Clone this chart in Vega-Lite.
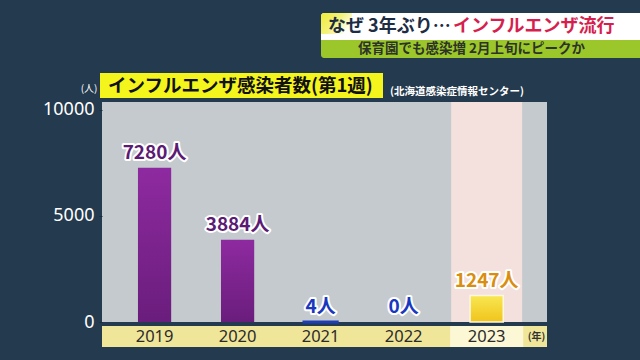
{
  "$schema": "https://vega.github.io/schema/vega-lite/v6.json",
  "width": 445,
  "height": 245,
  "autosize": "none",
  "padding": {"left": 102, "top": 102, "right": 93, "bottom": 13},
  "background": "#243a4e",
  "config": {"view": {"stroke": null}, "font": "Noto Sans CJK JP"},
  "data": {"values": [
    {"year": "2019", "value": 7280, "label": "7280人"},
    {"year": "2020", "value": 3884, "label": "3884人"},
    {"year": "2021", "value": 4, "label": "4人"},
    {"year": "2022", "value": 0, "label": "0人"},
    {"year": "2023", "value": 1247, "label": "1247人"}
  ]},
  "layer": [
    {
      "data": {"values": [{}]},
      "mark": {"type": "rect", "fill": "#c4cacd"},
      "encoding": {
        "y": {"datum": 0, "type": "quantitative", "scale": {"domain": [-1179, 10377], "nice": false, "zero": false},
          "title": "(人)",
          "axis": {"values": [0, 5000, 10000], "format": "d", "grid": false, "domain": false, "tickSize": 3, "tickColor": "#1b2c3c", "labelColor": "#ffffff", "labelFontSize": 18, "labelPadding": 5, "labelFlush": false, "labelFont": "Noto Sans", "titleAngle": 0, "titleAlign": "right", "titleBaseline": "middle", "titleX": -5, "titleY": -14, "titleColor": "#ffffff", "titleFontSize": 10, "titleFontWeight": "normal", "zindex": 1}},
        "y2": {"datum": 10377}
      }
    },
    {
      "data": {"values": [{}]},
      "mark": {"type": "rect", "fill": "#efe69a"},
      "encoding": {
        "y": {"datum": -189, "type": "quantitative", "scale": {"domain": [-1179, 10377], "nice": false, "zero": false}},
        "y2": {"datum": -1179}
      }
    },
    {
      "encoding": {
        "x": {"field": "year", "type": "nominal", "title": "(年)",
          "scale": {"domain": ["2019", "2020", "2021", "2022", "2023"], "paddingInner": 0, "paddingOuter": 0.18, "align": 0.37},
          "axis": {"labels": false, "ticks": false, "domain": false, "titleX": 434, "titleY": -11, "titleBaseline": "middle", "titleAlign": "center", "titleFontSize": 10, "titleFontWeight": "bold", "titleColor": "#333333", "zindex": 1}}
      },
      "layer": [
        {
          "transform": [{"filter": {"field": "year", "equal": "2023"}}],
          "mark": {"type": "bar", "fill": "#f4e1dd", "width": {"band": 0.855}},
          "encoding": {
            "y": {"datum": 0, "type": "quantitative", "scale": {"domain": [-1179, 10377], "nice": false, "zero": false}},
            "y2": {"datum": 10377}
          }
        },
        {
          "transform": [{"filter": {"field": "year", "equal": "2023"}}],
          "mark": {"type": "bar", "fill": "#fcf7d4", "width": {"band": 0.88}},
          "encoding": {
            "y": {"datum": -189, "type": "quantitative", "scale": {"domain": [-1179, 10377], "nice": false, "zero": false}},
            "y2": {"datum": -1179}
          }
        },
        {
          "transform": [{"filter": {"field": "year", "oneOf": ["2019", "2020"]}}],
          "mark": {"type": "bar", "width": {"band": 0.4},
            "fill": {"gradient": "linear", "x1": 0, "y1": 0, "x2": 0, "y2": 1, "stops": [{"offset": 0, "color": "#8e2aa0"}, {"offset": 1, "color": "#6a1d7c"}]}},
          "encoding": {
            "y": {"field": "value", "type": "quantitative", "title": "(人)", "scale": {"domain": [-1179, 10377], "nice": false, "zero": false}},
            "y2": {"datum": 0}
          }
        },
        {
          "transform": [{"filter": {"field": "year", "equal": "2021"}}],
          "mark": {"type": "bar", "width": {"band": 0.4}, "fill": "#1f3db5", "stroke": "#1f3db5", "strokeWidth": 3},
          "encoding": {
            "y": {"field": "value", "type": "quantitative", "title": "(人)", "scale": {"domain": [-1179, 10377], "nice": false, "zero": false}},
            "y2": {"datum": 0}
          }
        },
        {
          "transform": [{"filter": {"field": "year", "equal": "2023"}}],
          "mark": {"type": "bar", "width": {"band": 0.4}, "stroke": "#fff8e0", "strokeWidth": 1.5,
            "fill": {"gradient": "linear", "x1": 0, "y1": 0, "x2": 0, "y2": 1, "stops": [{"offset": 0, "color": "#f8e752"}, {"offset": 1, "color": "#f1c41c"}]}},
          "encoding": {
            "y": {"field": "value", "type": "quantitative", "title": "(人)", "scale": {"domain": [-1179, 10377], "nice": false, "zero": false}},
            "y2": {"datum": 0}
          }
        },
        {
          "mark": {"type": "text", "fontSize": 19, "fontWeight": "bold", "baseline": "middle", "dy": -15, "stroke": "#ffffff", "strokeWidth": 4, "strokeJoin": "round", "fill": "#ffffff"},
          "encoding": {
            "y": {"field": "value", "type": "quantitative", "title": "(人)", "scale": {"domain": [-1179, 10377], "nice": false, "zero": false}},
            "text": {"field": "label"}
          }
        },
        {
          "mark": {"type": "text", "fontSize": 19, "fontWeight": "bold", "baseline": "middle", "dy": -15},
          "encoding": {
            "y": {"field": "value", "type": "quantitative", "title": "(人)", "scale": {"domain": [-1179, 10377], "nice": false, "zero": false}},
            "text": {"field": "label"},
            "color": {"field": "year", "type": "nominal", "legend": null,
              "scale": {"domain": ["2019", "2020", "2021", "2022", "2023"], "range": ["#5b1b74", "#5b1b74", "#1838c0", "#1838c0", "#d98e10"]}}
          }
        },
        {
          "mark": {"type": "text", "fontSize": 16.5, "baseline": "middle", "fill": "#2b2b2b", "font": "Noto Sans"},
          "encoding": {
            "y": {"datum": -684, "type": "quantitative", "scale": {"domain": [-1179, 10377], "nice": false, "zero": false}},
            "text": {"field": "year"}
          }
        }
      ]
    },
    {
      "data": {"values": [{}]},
      "mark": {"type": "rect", "x": 219, "x2": 540, "y": -89, "y2": -62, "fill": "#ffffff", "cornerRadiusTopLeft": 3},
      "encoding": {}
    },
    {
      "data": {"values": [{}]},
      "mark": {"type": "rect", "x": 219, "x2": 250, "y": -89, "y2": -68, "cornerRadiusTopLeft": 3,
        "fill": {"gradient": "linear", "x1": 0, "y1": 0, "x2": 1, "y2": 0.6, "stops": [{"offset": 0, "color": "#eeec36"}, {"offset": 0.55, "color": "#f4f27a"}, {"offset": 1, "color": "#ffffff"}]}},
      "encoding": {}
    },
    {
      "data": {"values": [{}]},
      "mark": {"type": "rect", "x": 219, "x2": 540, "y": -62, "y2": -44, "fill": "#9cc72a", "cornerRadiusBottomLeft": 3},
      "encoding": {}
    },
    {
      "data": {"values": [{}]},
      "mark": {"type": "text", "x": 226, "y": -75, "text": "なぜ 3年ぶり…", "align": "left", "baseline": "middle", "fontSize": 18, "fontWeight": "bold", "fill": "#1d2d44"},
      "encoding": {}
    },
    {
      "data": {"values": [{}]},
      "mark": {"type": "text", "x": 351, "y": -75, "text": "インフルエンザ流行", "align": "left", "baseline": "middle", "fontSize": 18, "fontWeight": "bold", "fill": "#d61f4f"},
      "encoding": {}
    },
    {
      "data": {"values": [{}]},
      "mark": {"type": "text", "x": 256, "y": -53, "text": "保育園でも感染増 2月上旬にピークか", "align": "left", "baseline": "middle", "fontSize": 13.5, "fontWeight": "bold", "fill": "#2c3328"},
      "encoding": {}
    },
    {
      "data": {"values": [{}]},
      "mark": {"type": "rect", "x": -2, "x2": 281, "y": -29, "y2": -4, "fill": "#f5f51e"},
      "encoding": {}
    },
    {
      "data": {"values": [{}]},
      "mark": {"type": "text", "x": 6, "y": -16.5, "text": "インフルエンザ感染者数(第1週)", "align": "left", "baseline": "middle", "fontSize": 18.5, "fontWeight": "bold", "fill": "#111111"},
      "encoding": {}
    },
    {
      "data": {"values": [{}]},
      "mark": {"type": "text", "x": 288, "y": -10.5, "text": "(北海道感染症情報センター)", "align": "left", "baseline": "middle", "fontSize": 10.5, "fontWeight": "bold", "fill": "#ffffff"},
      "encoding": {}
    }
  ]
}
